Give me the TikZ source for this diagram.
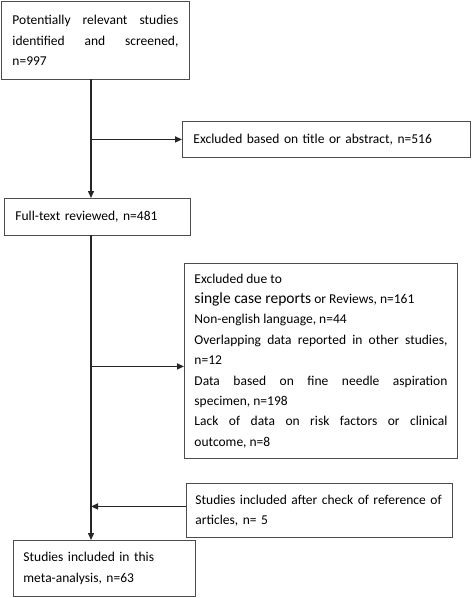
\documentclass[tikz,border=0pt]{standalone}
\usepackage{fontspec}
\setmainfont{Carlito}
\usetikzlibrary{arrows.meta}
\setlength{\parindent}{0pt}
\begin{document}
\begin{tikzpicture}[x=1pt,y=-1pt,
    box/.style={draw=black!70,line width=0.9pt,anchor=north west,inner ysep=0pt,
      font=\fontsize{13.5}{20.4}\selectfont},
    flow/.style={draw=black!85,line width=1.4pt,-{Triangle[length=7pt,width=6pt]}}]
  \useasboundingbox (0,0) rectangle (472,598);
  \node[box,inner xsep=11pt,text width=166pt,minimum height=78pt,align=justify]
    (found) at (1,1) {Potentially relevant studies\linebreak identified and screened,\linebreak n=997};
  \node[box,inner xsep=11pt,text width=266pt,minimum height=36pt,align=left]
    (title) at (182,121) {Excluded based on title or abstract, n=516};
  \node[box,inner xsep=11pt,text width=164pt,minimum height=37pt,align=left]
    (full) at (4,198) {Full-text reviewed, n=481};
  \node[box,inner xsep=10pt,text width=253pt,minimum height=195pt,align=justify]
    (excl) at (184,263) {Excluded due to\par
      {\fontsize{15.5}{20.4}\selectfont single case reports} or Reviews, n=161\par
      Non-english language, n=44\par
      Overlapping data reported in other studies,\linebreak n=12\par
      Data based on fine needle aspiration\linebreak specimen, n=198\par
      Lack of data on risk factors or clinical\linebreak outcome, n=8};
  \node[box,inner xsep=9pt,text width=248pt,minimum height=54pt,align=left]
    (extra) at (186,483) {\mbox{Studies included after check of reference of}\\articles, n= 5};
  \node[box,inner xsep=10pt,text width=162pt,minimum height=56pt,align=left]
    (final) at (13,540) {Studies included in this\\meta-analysis, n=63};
  \coordinate (top) at (91,79);
  \coordinate (mid) at (91,235);
  \begin{scope}[flow]
    \draw (top) to (top |- full.north);
    \draw (title.west -| top) to (title.west);
    \draw (mid) to (mid |- final.north);
    \draw ([yshift=-5.5pt]excl.west -| mid) to ([yshift=-5.5pt]excl.west);
    \draw ([yshift=4pt]extra.west) to ([yshift=4pt]extra.west -| mid);
  \end{scope}
\end{tikzpicture}
\end{document}
